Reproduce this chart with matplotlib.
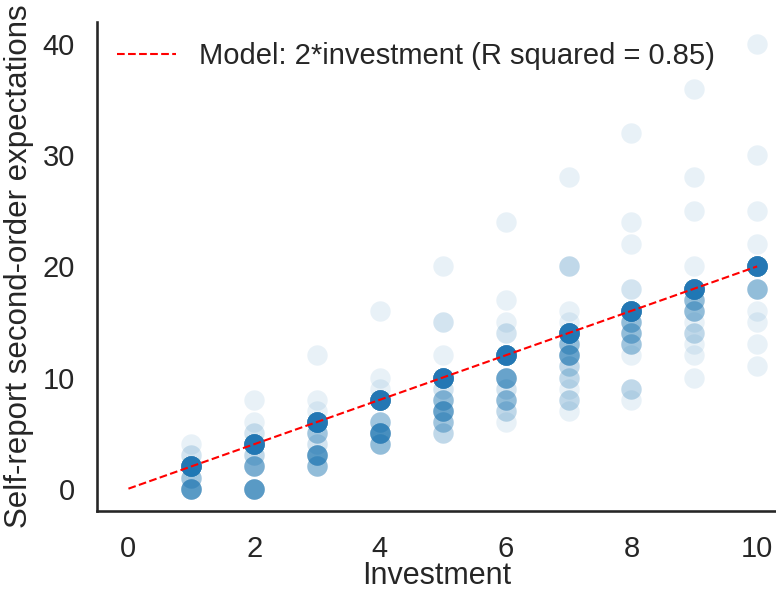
import numpy as np
import matplotlib
matplotlib.use('Agg')
import matplotlib.pyplot as plt
import seaborn as sns

# Respuestas por nivel de inversion: valor reportado y numero de personas
inversion = [1, 2, 3, 4, 5, 6, 7, 8, 9, 10]
resp = [
    [4, 3, 2, 1, 0],
    [8, 6, 5, 4, 3, 2, 0],
    [12, 8, 7, 6, 5, 4, 3, 2],
    [16, 10, 9, 8, 6, 5, 4],
    [20, 15, 12, 10, 9, 8, 7, 6, 5],
    [24, 17, 15, 14, 12, 10, 9, 8, 7, 6],
    [28, 20, 16, 15, 14, 13, 12, 11, 10, 9, 8, 7],
    [32, 24, 22, 18, 16, 15, 14, 13, 12, 9, 8],
    [36, 28, 25, 20, 18, 17, 16, 15, 14, 13, 12, 10],
    [40, 30, 25, 22, 20, 18, 16, 15, 13, 11],
]
conteo = [
    [1, 2, 30, 5, 12],
    [1, 1, 2, 30, 3, 8, 12],
    [1, 1, 1, 30, 5, 2, 12, 6],
    [1, 1, 1, 30, 5, 15, 6],
    [1, 2, 1, 30, 2, 6, 10, 5, 3],
    [1, 1, 1, 2, 30, 10, 2, 6, 3, 1],
    [1, 3, 1, 1, 30, 6, 10, 3, 3, 1, 3, 1],
    [1, 1, 1, 2, 30, 6, 6, 5, 1, 3, 1],
    [1, 1, 1, 1, 30, 6, 6, 1, 3, 1, 1, 1],
    [1, 1, 1, 1, 30, 6, 1, 1, 1, 1],
]
pendiente = 2
r2 = 0.85

x = []
y = []
for inv, r, c in zip(inversion, resp, conteo):
    x.extend(np.repeat(inv, sum(c)))
    y.extend(np.repeat(r, c))

sns.set_theme(style='white', context='talk')
plt.rcParams['font.family'] = ['Liberation Sans', 'DejaVu Sans']

fig = plt.figure(figsize=(7.76, 5.92), dpi=100)
ax = fig.add_axes([0.125, 0.137, 0.875, 0.826])

ax.scatter(x, y, s=215, color='#1f77b4', alpha=0.1, linewidths=0)

xm = np.array([0, 10])
ax.plot(xm, pendiente * xm, '--', color='red', linewidth=1.5,
        label='Model: 2*investment (R squared = %.2f)' % r2)

ax.set_xlim(-0.5, 10.3)
ax.set_ylim(-2, 42)
ax.set_xticks([0, 2, 4, 6, 8, 10])
ax.set_yticks([0, 10, 20, 30, 40])
ax.tick_params(labelsize=21, colors='.15')
ax.tick_params(axis='x', pad=8)
ax.tick_params(axis='y', pad=7)
ax.set_xlabel('Investment', fontsize=22, color='.15', labelpad=-1)
ax.set_ylabel('Self-report second-order expectations', fontsize=22.5, color='.15', labelpad=6)
sns.despine(ax=ax)

ax.legend(loc='upper left', frameon=False, fontsize=21, borderaxespad=0.3)

fig.savefig('out.png', dpi=100)
